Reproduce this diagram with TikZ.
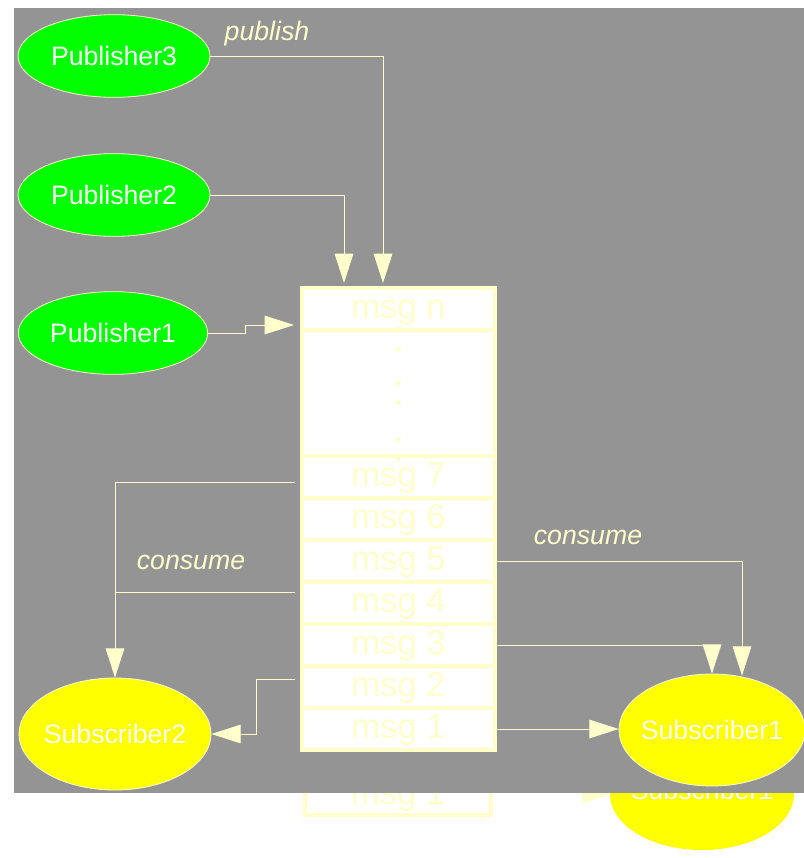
\documentclass[tikz,border=0pt]{standalone}
\usepackage{fontspec}
\setmainfont{Liberation Sans}
\usetikzlibrary{positioning,shapes.geometric,arrows.meta,calc}
\definecolor{pale}{HTML}{FFFFCC}
\definecolor{backgray}{HTML}{949494}
\definecolor{pubgreen}{HTML}{00FF00}
\definecolor{subyellow}{HTML}{FFFF00}
\tikzset{
   pub/.style={ellipse, draw=pale, line width=0.6pt, fill=pubgreen, text=white,
     inner sep=0pt, minimum width=144pt, minimum height=62pt,
     font=\fontsize{20}{24}\selectfont},
   sub/.style={pub, fill=subyellow, minimum height=84pt},
   slot/.style={rectangle, draw=pale, line width=2.4pt, fill=white, text=pale,
     inner sep=0pt, outer sep=0pt, minimum width=144.75pt, minimum height=31.5pt,
     text height=13.5pt, text depth=0pt, font=\fontsize{26}{30}\selectfont},
   gap/.style={text=pale, inner sep=0pt, font=\fontsize{34}{40}\selectfont},
   wire/.style={color=pale, line width=0.75pt},
   feed/.style={wire, -{Triangle[length=22pt,width=14pt]}},
   tag/.style={text=pale, font=\fontsize{20}{24}\selectfont\itshape},
   hv/.style={to path={-| (\tikztotarget)}}
}
\begin{document}
\begin{tikzpicture}[x=0.75pt,y=-0.75pt]
   \useasboundingbox (0,0) rectangle (804,858);

   \draw[pale, line width=2.4pt, fill=white] (305,773) rectangle (491,815);
   \node (Gm) [text=pale, font=\fontsize{26}{30}\selectfont] at (398,796) {msg 1};
   \fill[subyellow] (702,794) ellipse [x radius=92, y radius=56];
   \node (Gs) [text=white, font=\fontsize{20}{24}\selectfont] at (702,790) {Subscriber1};
   \fill[pale] (610,794) -- (582,784) -- (582,804) -- cycle;
   \fill[backgray] (14,8) rectangle (804,793);

   \node (P3) [pub] at (114,56)  {\makebox[0pt]{Publisher3}};
   \node (P2) [pub] at (114,195) {\makebox[0pt]{Publisher2}};
   \node (P1) [pub, minimum width=142pt] at (113,333) {\makebox[0pt]{Publisher1}};

   \node (Mn) [slot] at (398.5,309) {msg n};
   \node (D)  [slot, below=0pt of Mn, minimum height=94.5pt] {};
   \node (M7) [slot, below=0pt of D]  {msg 7};
   \node (M6) [slot, below=0pt of M7] {msg 6};
   \node (M5) [slot, below=0pt of M6] {msg 5};
   \node (M4) [slot, below=0pt of M5] {msg 4};
   \node (M3) [slot, below=0pt of M4] {msg 3};
   \node (M2) [slot, below=0pt of M3] {msg 2};
   \node (M1) [slot, below=0pt of M2] {msg 1};
   \node (C1) [gap] at ($(D.center)+(0,-53)$) {:};
   \node (C2) [gap] at ($(D.center)+(0,1)$)   {:};
   \node (C3) [gap] at ($(D.center)+(0,57)$)  {:};

   \node (S2) [sub] at (115,734) {\makebox[0pt]{Subscriber2}};
   \node (S1) [sub, minimum width=139.5pt] at (712,730) {\makebox[0pt]{Subscriber1}};

   \node (pubtag)  [tag] at (267,34)  {publish};
   \node (contagL) [tag] at (191,562) {consume};
   \node (contagR) [tag] at (588,537) {consume};

   \coordinate (in3)  at ($(Mn.north west)+(81,-5)$);
   \coordinate (in2)  at ($(Mn.north west)+(42,-5)$);
   \coordinate (in1)  at ($(Mn.west)+(-8,16)$);
   \coordinate (out7) at ($(M7.west)+(-7,5)$);
   \coordinate (out4) at ($(M4.west)+(-7,-11)$);
   \coordinate (out2) at ($(M2.west)+(-7,-8)$);
   \coordinate (top1) at ($(S1.north)+(30,2)$);

   \path[feed]
     (P3.east) edge[hv] (in3)
     (P2.east) edge[hv] (in2)
     (M5.east) edge[hv] (top1)
     (M3.east) edge[hv] (S1.north)
     (M1.east) edge (M1.east -| S1.west)
     (out7)    edge[hv] (S2.north);
   \draw[feed] (P1.east) -- ++(37,0) |- (in1);
   \draw[feed] (out2) -- ++(-39,0) |- (S2.east);
   \draw[wire] (out4) -- (out4 -| S2.north);
\end{tikzpicture}
\end{document}
